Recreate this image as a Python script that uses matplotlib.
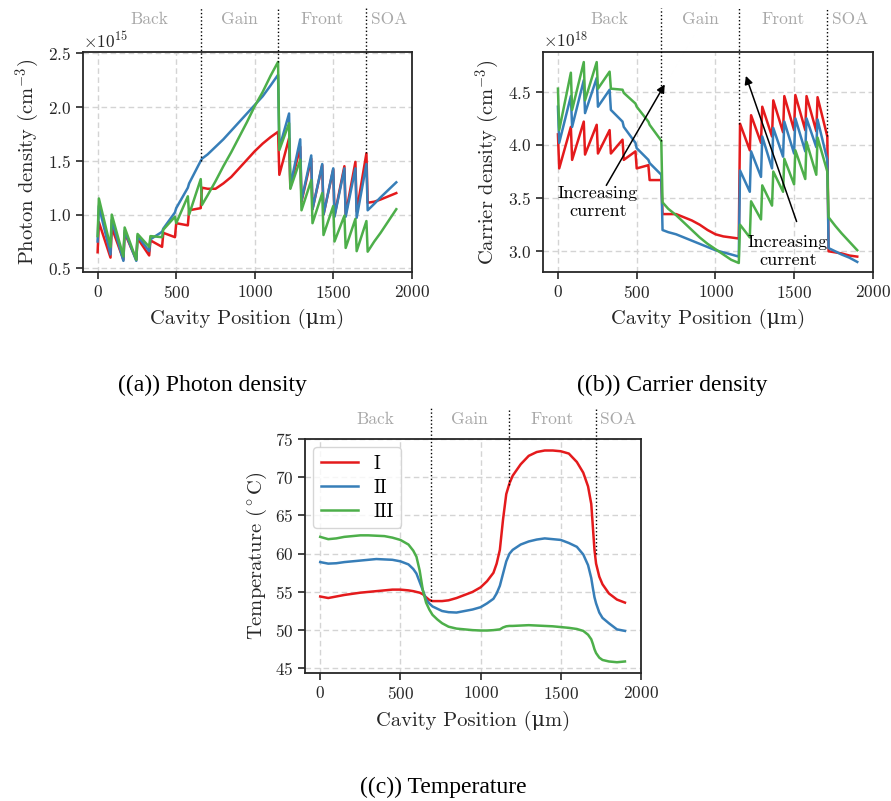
import matplotlib
matplotlib.use("Agg")
import matplotlib.pyplot as plt
from matplotlib.transforms import blended_transform_factory

# ---------------- Style ----------------
plt.rcParams["font.family"] = ["cmr10", "DejaVu Serif"]
plt.rcParams["mathtext.fontset"] = "cm"
plt.rcParams["axes.formatter.use_mathtext"] = True
plt.rcParams["axes.unicode_minus"] = False

RED, BLUE, GREEN = "#e41a1c", "#377eb8", "#4daf4a"
DARK = "#262626"
LW = 1.8

# ---------------- Mesh of the laser sections ----------------
BACK_JUMPS = [0, 82, 164, 246, 328, 410, 492, 574, 656]
FRONT_JUMPS = [1148, 1218, 1289, 1359, 1429, 1499, 1570, 1640, 1710]
GAIN_X = [700, 750, 800, 850, 900, 950, 1000, 1050, 1100]
SOA_X = [1760, 1800, 1850, 1900]
JUMP_W = 8

# ---------------- (a) Photon density, x1e15 cm^-3 ----------------
pd_red_back_pre = [0.65, 0.60, 0.58, 0.58, 0.62, 0.70, 0.79, 0.90, 1.06]
pd_red_back_post = [0.93, 0.88, 0.83, 0.78, 0.76, 0.83, 0.92, 1.04, 1.25]
pd_red_gain = [1.24, 1.24, 1.29, 1.35, 1.43, 1.51, 1.59, 1.66, 1.72]
pd_red_front_pre = [1.77, 1.71, 1.63, 1.52, 1.46, 1.42, 1.45, 1.49, 1.57]
pd_red_front_post = [1.37, 1.25, 1.12, 1.05, 1.00, 0.99, 1.00, 1.03, 1.11]
pd_red_soa = [1.12, 1.14, 1.17, 1.20]

pd_blue_back_pre = [0.75, 0.63, 0.57, 0.57, 0.66, 0.84, 1.02, 1.25, 1.50]
pd_blue_back_post = [1.08, 0.95, 0.85, 0.80, 0.77, 0.87, 1.06, 1.29, 1.52]
pd_blue_gain = [1.56, 1.63, 1.70, 1.78, 1.86, 1.94, 2.02, 2.10, 2.20]
pd_blue_front_pre = [2.30, 1.94, 1.70, 1.55, 1.47, 1.43, 1.43, 1.43, 1.47]
pd_blue_front_post = [1.62, 1.27, 1.13, 1.05, 1.00, 0.98, 0.98, 0.97, 1.04]
pd_blue_soa = [1.10, 1.16, 1.23, 1.30]

pd_green_back_pre = [0.80, 0.70, 0.61, 0.58, 0.70, 0.79, 0.98, 1.17, 1.33]
pd_green_back_post = [1.15, 1.00, 0.88, 0.82, 0.80, 0.86, 0.92, 1.00, 1.09]
pd_green_gain = [1.18, 1.31, 1.45, 1.58, 1.72, 1.86, 2.01, 2.14, 2.29]
pd_green_front_pre = [2.42, 1.85, 1.51, 1.32, 1.20, 1.08, 0.99, 0.96, 0.94]
pd_green_front_post = [1.60, 1.24, 1.04, 0.92, 0.81, 0.75, 0.69, 0.66, 0.655]
pd_green_soa = [0.75, 0.83, 0.94, 1.05]

# ---------------- (b) Carrier density, x1e18 cm^-3 ----------------
cd_red_back_pre = [4.10, 4.17, 4.22, 4.19, 4.14, 4.05, 3.94, 3.81, 3.67]
cd_red_back_post = [3.78, 3.86, 3.91, 3.92, 3.92, 3.86, 3.78, 3.67, 3.35]
cd_red_gain = [3.35, 3.35, 3.32, 3.29, 3.25, 3.20, 3.16, 3.14, 3.13]
cd_red_front_pre = [3.12, 3.95, 4.02, 4.08, 4.12, 4.14, 4.14, 4.13, 4.08]
cd_red_front_post = [4.20, 4.28, 4.36, 4.42, 4.46, 4.47, 4.46, 4.45, 3.00]
cd_red_soa = [2.99, 2.98, 2.96, 2.95]

cd_blue_back_pre = [4.36, 4.46, 4.61, 4.63, 4.52, 4.22, 4.02, 3.86, 3.72]
cd_blue_back_post = [4.02, 4.17, 4.30, 4.36, 4.33, 4.17, 3.97, 3.83, 3.20]
cd_blue_gain = [3.18, 3.16, 3.13, 3.10, 3.07, 3.04, 3.01, 2.99, 2.97]
cd_blue_front_pre = [2.95, 3.56, 3.70, 3.78, 3.89, 3.92, 3.94, 3.98, 3.86]
cd_blue_front_post = [3.76, 3.94, 4.08, 4.16, 4.22, 4.25, 4.25, 4.24, 3.03]
cd_blue_soa = [3.00, 2.97, 2.94, 2.90]

cd_green_back_pre = [4.53, 4.68, 4.78, 4.78, 4.69, 4.52, 4.39, 4.22, 4.04]
cd_green_back_post = [4.14, 4.33, 4.42, 4.53, 4.53, 4.49, 4.36, 4.19, 3.46]
cd_green_gain = [3.40, 3.34, 3.27, 3.20, 3.13, 3.07, 3.02, 2.97, 2.92]
cd_green_front_pre = [2.89, 3.13, 3.30, 3.43, 3.56, 3.63, 3.68, 3.72, 3.75]
cd_green_front_post = [3.25, 3.47, 3.62, 3.75, 3.87, 3.95, 4.03, 4.07, 3.32]
cd_green_soa = [3.24, 3.17, 3.09, 3.01]

# ---------------- (c) Temperature, deg C ----------------
temp_x = [0, 50, 100, 150, 200, 250, 300, 350, 400, 450, 500, 550, 580, 600,
          620, 640, 660, 680, 700, 730, 760, 800, 850, 900, 950, 1000, 1040,
          1080, 1100, 1120, 1140, 1160, 1180, 1200, 1250, 1300, 1350, 1400,
          1450, 1500, 1550, 1600, 1640, 1670, 1690, 1700, 1710, 1720, 1740,
          1760, 1800, 1850, 1900]
temp_I = [54.4, 54.2, 54.4, 54.6, 54.75, 54.9, 55.0, 55.1, 55.2, 55.3, 55.3,
          55.2, 55.1, 55.0, 54.9, 54.7, 54.3, 53.95, 53.8, 53.8, 53.8, 53.9,
          54.2, 54.6, 55.0, 55.6, 56.4, 57.5, 58.7, 60.5, 64.5, 67.8, 69.2,
          70.2, 71.7, 72.8, 73.3, 73.5, 73.5, 73.4, 73.1, 72.0, 70.6, 68.8,
          66.5, 63.5, 60.5, 58.7, 57.0, 56.0, 54.8, 54.0, 53.6]
temp_II = [58.9, 58.7, 58.75, 58.9, 59.0, 59.1, 59.2, 59.3, 59.25, 59.2, 59.0,
           58.6, 58.0, 57.4, 56.3, 55.2, 54.0, 53.5, 53.1, 52.8, 52.5, 52.35,
           52.3, 52.5, 52.7, 53.0, 53.5, 54.1, 54.8, 55.8, 57.4, 59.0, 60.0,
           60.5, 61.2, 61.6, 61.85, 62.0, 61.9, 61.8, 61.4, 60.9, 59.9, 58.5,
           56.8, 55.5, 54.3, 53.5, 52.3, 51.6, 50.9, 50.1, 49.9]
temp_III = [62.2, 61.9, 62.0, 62.2, 62.3, 62.4, 62.4, 62.35, 62.3, 62.1, 61.8,
            61.2, 60.4, 59.6, 57.8, 55.2, 53.6, 52.7, 52.0, 51.4, 50.9, 50.45,
            50.2, 50.1, 50.0, 49.95, 49.95, 50.0, 50.05, 50.1, 50.35, 50.5,
            50.55, 50.55, 50.6, 50.65, 50.6, 50.55, 50.5, 50.4, 50.3, 50.15,
            49.9, 49.4, 48.8, 48.2, 47.5, 47.0, 46.4, 46.1, 45.9, 45.8, 45.9]

# section boundaries and where the dotted markers stop
REGIONS = ["Back", "Gain", "Front", "SOA"]
bounds_ab = [656, 1148, 1710]
pd_marker_ends = [1.50, 2.42, 1.57]
cd_marker_ends = [4.04, 4.20, 4.08]
bounds_c = [690, 1175, 1720]
temp_marker_ends = [53.8, 69.0, 60.0]

XLABEL = "Cavity Position (\u03bcm)"  # mu taken from DejaVu Serif


def build_profile(back_pre, back_post, gain, front_pre, front_post, soa):
    xs, ys = [], []
    for xj, a, b in zip(BACK_JUMPS, back_pre, back_post):
        xs += [xj, xj + JUMP_W]
        ys += [a, b]
    xs += GAIN_X
    ys += gain
    for xj, a, b in zip(FRONT_JUMPS, front_pre, front_post):
        xs += [xj, xj + JUMP_W]
        ys += [a, b]
    xs += SOA_X
    ys += soa
    return xs, ys


def style_axes(ax, ylim):
    ax.set_xlim(-95, 2000)
    ax.set_ylim(*ylim)
    ax.set_xticks([0, 500, 1000, 1500, 2000])
    ax.grid(True, color="#d4d4d4", linestyle=(0, (4, 2.5)), linewidth=1.0)
    ax.set_axisbelow(True)
    for s in ax.spines.values():
        s.set_color(DARK)
        s.set_linewidth(1.3)
    ax.tick_params(direction="out", length=5, width=1.2, color=DARK,
                   labelcolor=DARK, labelsize=12.5)
    ax.yaxis.get_offset_text().set_fontsize(12.5)
    ax.set_xlabel(XLABEL, fontsize=14.8, color=DARK, labelpad=6)


def add_regions(ax, bounds, ends, label_y, line_top):
    trans = blended_transform_factory(ax.transData, ax.transAxes)
    edges = [0] + bounds + [2000]
    for name, lo, hi in zip(REGIONS, edges[:-1], edges[1:]):
        ax.text((lo + hi) / 2, label_y, name, transform=trans, ha="center",
                va="center", fontsize=12.5, color="#a8a8a8")
    y0, y1 = ax.get_ylim()
    top = y0 + line_top * (y1 - y0)
    for xb, yb in zip(bounds, ends):
        ax.plot([xb, xb], [yb, top], color="black", linestyle=":",
                linewidth=1.0, clip_on=False, zorder=5)


fig = plt.figure(figsize=(8.91, 8.01), dpi=100)
ax_a = fig.add_axes([0.0928, 0.6604, 0.3696, 0.2747])
ax_b = fig.add_axes([0.6094, 0.6604, 0.3704, 0.2747])
ax_c = fig.add_axes([0.3423, 0.1594, 0.3771, 0.2925])

# -------- (a) --------
for color, parts in [
    (RED, (pd_red_back_pre, pd_red_back_post, pd_red_gain,
           pd_red_front_pre, pd_red_front_post, pd_red_soa)),
    (BLUE, (pd_blue_back_pre, pd_blue_back_post, pd_blue_gain,
            pd_blue_front_pre, pd_blue_front_post, pd_blue_soa)),
    (GREEN, (pd_green_back_pre, pd_green_back_post, pd_green_gain,
             pd_green_front_pre, pd_green_front_post, pd_green_soa)),
]:
    xs, ys = build_profile(*parts)
    ax_a.plot(xs, [v * 1e15 for v in ys], color=color, linewidth=LW)
style_axes(ax_a, (0.466e15, 2.512e15))
ax_a.set_ylabel(r"Photon density (cm$^{-3}$)", fontsize=14.8, color=DARK)
add_regions(ax_a, bounds_ab, [v * 1e15 for v in pd_marker_ends], 1.15, 1.2)

# -------- (b) --------
for color, parts in [
    (RED, (cd_red_back_pre, cd_red_back_post, cd_red_gain,
           cd_red_front_pre, cd_red_front_post, cd_red_soa)),
    (BLUE, (cd_blue_back_pre, cd_blue_back_post, cd_blue_gain,
            cd_blue_front_pre, cd_blue_front_post, cd_blue_soa)),
    (GREEN, (cd_green_back_pre, cd_green_back_post, cd_green_gain,
             cd_green_front_pre, cd_green_front_post, cd_green_soa)),
]:
    xs, ys = build_profile(*parts)
    ax_b.plot(xs, [v * 1e18 for v in ys], color=color, linewidth=LW)
style_axes(ax_b, (2.805e18, 4.875e18))
ax_b.set_ylabel(r"Carrier density (cm$^{-3}$)", fontsize=14.8, color=DARK)
add_regions(ax_b, bounds_ab, [v * 1e18 for v in cd_marker_ends], 1.15, 1.2)

arrow_kw = dict(arrowstyle="-|>", color="black", lw=1.1, mutation_scale=12,
                shrinkA=0, shrinkB=0)
ax_b.annotate("", xy=(678, 4.57e18), xytext=(307, 3.62e18), arrowprops=arrow_kw)
ax_b.text(254, 3.46e18, "Increasing\ncurrent", ha="center", va="center",
          fontsize=13, color="black")
ax_b.annotate("", xy=(1193, 4.65e18), xytext=(1515, 3.28e18), arrowprops=arrow_kw)
ax_b.text(1461, 3.0e18, "Increasing\ncurrent", ha="center", va="center",
          fontsize=13, color="black")

# -------- (c) --------
ax_c.plot(temp_x, temp_I, color=RED, linewidth=LW, label="I")
ax_c.plot(temp_x, temp_II, color=BLUE, linewidth=LW, label="II")
ax_c.plot(temp_x, temp_III, color=GREEN, linewidth=LW, label="III")
style_axes(ax_c, (44.35, 75))
ax_c.set_yticks([45, 50, 55, 60, 65, 70, 75])
ax_c.set_ylabel(r"Temperature ($^\circ$C)", fontsize=14.8, color=DARK)
add_regions(ax_c, bounds_c, temp_marker_ends, 1.084, 1.133)
leg = ax_c.legend(loc="upper left", fontsize=13.5, frameon=True, fancybox=True,
                  edgecolor="#cccccc", framealpha=0.8, labelspacing=0.32,
                  borderaxespad=0.45)

# -------- captions --------
cap_kw = dict(ha="center", va="center", fontsize=17, family="Liberation Serif")
fig.text(0.238, 1 - 385 / 801, "((a)) Photon density", **cap_kw)
fig.text(0.755, 1 - 385 / 801, "((b)) Carrier density", **cap_kw)
fig.text(0.498, 1 - 787 / 801, "((c)) Temperature", **cap_kw)

fig.savefig("out.png", dpi=100)
